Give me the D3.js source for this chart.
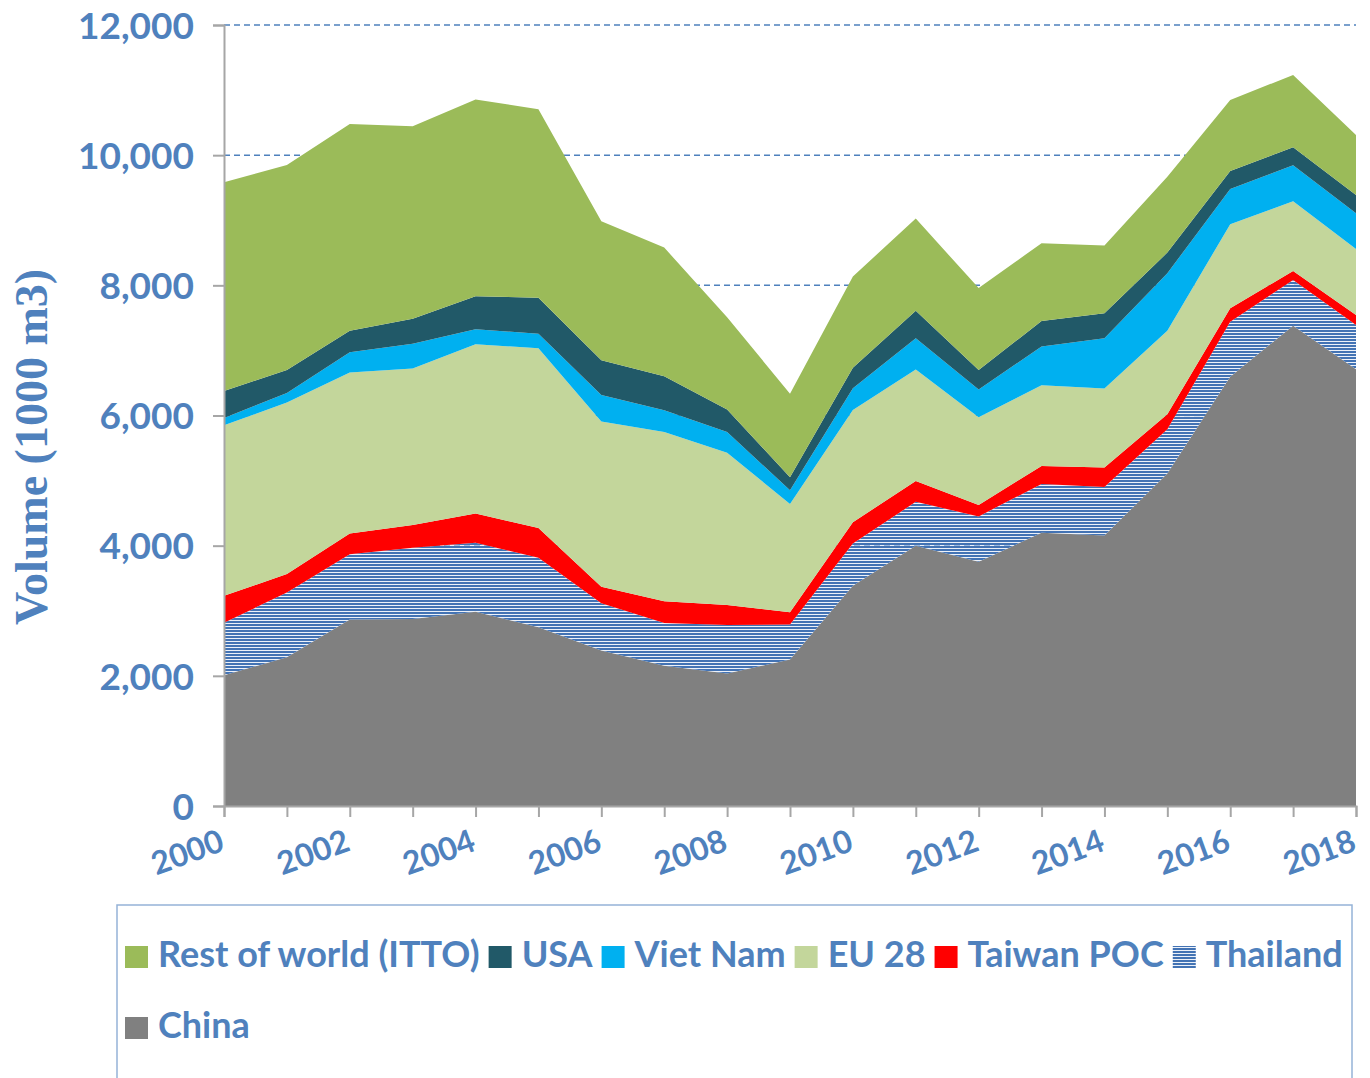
<!DOCTYPE html>
<html><head><meta charset="utf-8">
<script src="https://cdn.jsdelivr.net/npm/d3@7"></script>
<style>
html,body{margin:0;padding:0;background:#fff;}
svg{display:block;}
</style></head>
<body>
<svg id="chart" width="1370" height="1078"></svg>
<script>
const years = [2000,2001,2002,2003,2004,2005,2006,2007,2008,2009,2010,2011,2012,2013,2014,2015,2016,2017,2018];
const china    = [2010,2285,2865,2872,2985,2745,2390,2155,2035,2250,3383,3998,3752,4198,4155,5110,6595,7380,6710];
const thailand = [805,995,1003,1095,1060,1071,726,655,747,540,650,675,698,750,745,680,847,702,681];
const taiwan   = [415,285,319,349,450,454,254,335,306,188,327,321,175,278,300,230,206,139,154];
const eu28     = [2620,2635,2473,2406,2599,2765,2538,2600,2341,1662,1725,1713,1350,1238,1213,1283,1290,1071,1014];
const vietnam  = [110,146,313,379,230,223,407,335,318,210,335,481,425,596,775,882,543,553,548];
const usa      = [417,354,329,386,510,553,533,522,345,202,315,420,300,392,384,318,276,276,281];
const restOfWorld = [3208,3150,3175,2956,3021,2894,2137,1978,1418,1283,1402,1417,1258,1196,1040,1167,1091,1111,922];

const seriesNames = ["China","Thailand","Taiwan POC","EU 28","Viet Nam","USA","Rest of world (ITTO)"];
const seriesValues = [china, thailand, taiwan, eu28, vietnam, usa, restOfWorld];
const legendOrder = ["Rest of world (ITTO)","USA","Viet Nam","EU 28","Taiwan POC","Thailand","China"];
const yTicks = [0,2000,4000,6000,8000,10000,12000];
const xLabelYears = [2000,2002,2004,2006,2008,2010,2012,2014,2016,2018];

const colors = {
  "China":"#808080",
  "Thailand":"url(#hatch)",
  "Taiwan POC":"#ff0000",
  "EU 28":"#c3d69b",
  "Viet Nam":"#00b0f0",
  "USA":"#215968",
  "Rest of world (ITTO)":"#9bbb59"
};

const blue = "#4f81bd";
const svg = d3.select("#chart");
const defs = svg.append("defs");
const pat = defs.append("pattern").attr("id","hatch").attr("patternUnits","userSpaceOnUse")
  .attr("width",8).attr("height",3);
pat.append("rect").attr("x",0).attr("y",0).attr("width",8).attr("height",3).attr("fill","rgba(220,230,244,0.55)");
pat.append("rect").attr("x",0).attr("y",0).attr("width",8).attr("height",2).attr("fill","#4373b4");

const x = d3.scaleLinear().domain([2000,2018]).range([224,1356]);
const y = d3.scaleLinear().domain([0,12000]).range([806,25]);

// table
const table = years.map((yr,i)=>{
  const o = {year:yr};
  seriesNames.forEach((n,k)=>o[n]=seriesValues[k][i]);
  return o;
});
const stacked = d3.stack().keys(seriesNames)(table);

// gridlines
svg.append("g").selectAll("line").data(yTicks.filter(d=>d>0)).join("line")
  .attr("x1",224).attr("x2",1356).attr("y1",d=>y(d)).attr("y2",d=>y(d))
  .attr("stroke",blue).attr("stroke-width",1.5).attr("stroke-dasharray","6,4");

// areas
const area = d3.area().x(d=>x(d.data.year)).y0(d=>y(d[0])).y1(d=>y(d[1]));
svg.append("g").selectAll("path").data(stacked).join("path")
  .attr("d",area).attr("fill",d=>colors[d.key]);

// y axis
const yAxis = d3.axisLeft(y).tickValues(yTicks).tickSize(11).tickFormat(d3.format(","));
const gy = svg.append("g").attr("transform","translate(224,0)").call(yAxis);
gy.select(".domain").attr("stroke","#a6a6a6").attr("stroke-width",2);
gy.selectAll(".tick line").attr("stroke","#a6a6a6").attr("stroke-width",2);
gy.selectAll(".tick text").attr("x",-30).attr("dy","0.36em")
  .attr("fill",blue).style("font-family","Lato").style("font-weight","bold").style("font-size","37px");

// x axis
const xAxis = d3.axisBottom(x).tickValues(years).tickSize(11).tickFormat("");
const gx = svg.append("g").attr("transform","translate(0,806)").call(xAxis);
gx.select(".domain").attr("stroke","#a6a6a6").attr("stroke-width",2);
gx.selectAll(".tick line").attr("stroke","#a6a6a6").attr("stroke-width",2);
svg.append("g").selectAll("text").data(xLabelYears).join("text")
  .attr("transform",d=>`translate(${x(d)+2},850) rotate(-20)`)
  .attr("text-anchor","end").attr("fill",blue)
  .style("font-family","Lato").style("font-weight","bold").style("font-size","32px")
  .text(d=>d);

// y title
svg.append("text").attr("transform","translate(47,447) rotate(-90)")
  .attr("text-anchor","middle").attr("fill",blue)
  .style("font-family","Liberation Serif").style("font-weight","bold").style("font-size","46px")
  .text("Volume (1000 m3)");

// legend
svg.append("rect").attr("x",117).attr("y",905).attr("width",1235).attr("height",200)
  .attr("fill","none").attr("stroke","#95b3d7").attr("stroke-width",1.5);
const lg = svg.append("g");
let cx = 125, row = 0;
const rowY = [967, 1038];
legendOrder.forEach((name,i)=>{
  if(name==="China"){row=1; cx=125;}
  const by = rowY[row];
  lg.append("rect").attr("x",cx).attr("y",by-21).attr("width",23).attr("height",22)
    .attr("fill",colors[name]);
  const t = lg.append("text").attr("x",cx+33).attr("y",by).attr("fill",blue)
    .style("font-family","Lato").style("font-weight","bold").style("font-size","36px").text(name);
  const w = t.node().getComputedTextLength();
  cx += 33 + w + 9;
});
</script>
</body></html>
